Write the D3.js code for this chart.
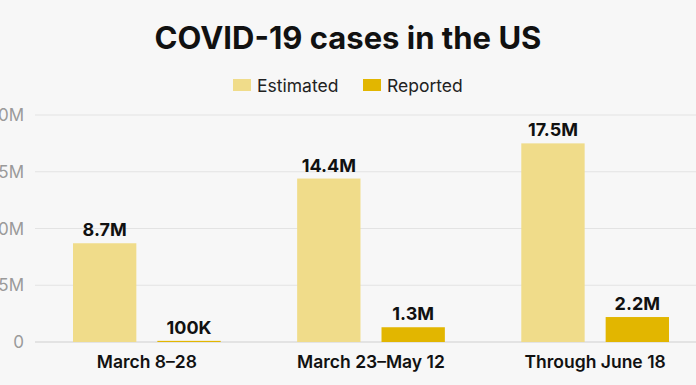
<!DOCTYPE html>
<html>
<head>
<meta charset="utf-8">
<script src="https://cdn.jsdelivr.net/npm/d3@7"></script>
<style>
  body { margin: 0; background: #f7f7f7; }
  svg { display: block; font-family: "Inter", "Roboto", sans-serif; }
</style>
</head>
<body>
<svg id="chart"></svg>
<script>
var width = 696, height = 385;

var periods = ["March 8\u201328", "March 23\u2013May 12", "Through June 18"];
var seriesNames = ["Estimated", "Reported"];
var estimated = [8.7, 14.4, 17.5];   // millions
var reported = [0.1, 1.3, 2.2];
var valueLabels = [["8.7M", "100K"], ["14.4M", "1.3M"], ["17.5M", "2.2M"]];
var yTicks = [0, 5, 10, 15, 20];
var yTickLabels = ["0", "5M", "10M", "15M", "20M"];
var colors = ["#f0dc8a", "#e2b600"];

var svg = d3.select("#chart").attr("width", width).attr("height", height);

svg.append("rect").attr("width", width).attr("height", height).attr("fill", "#f7f7f7");

// title
svg.append("text")
    .attr("x", 348).attr("y", 49)
    .attr("text-anchor", "middle")
    .attr("font-size", 31).attr("font-weight", 700)
    .attr("fill", "#111")
    .text("COVID-19 cases in the US");

// legend
var legendX = [233, 363];
seriesNames.forEach(function (name, i) {
    svg.append("rect")
        .attr("x", legendX[i]).attr("y", 79)
        .attr("width", 18).attr("height", 12)
        .attr("fill", colors[i]);
    svg.append("text")
        .attr("x", legendX[i] + 24).attr("y", 91.5)
        .attr("font-size", 17.5)
        .attr("fill", "#222")
        .text(name);
});

var y = d3.scaleLinear().domain([0, 20]).range([342, 115]);

var x0 = d3.scaleBand().domain(periods).range([73, 669]).paddingInner(0.341);
var x1 = d3.scaleBand().domain(seriesNames).range([0, x0.bandwidth()]).paddingInner(0.249);

// gridlines + y labels
var grid = svg.append("g");
grid.selectAll("line").data(yTicks).enter().append("line")
    .attr("x1", 35).attr("x2", width)
    .attr("y1", function (d) { return y(d); })
    .attr("y2", function (d) { return y(d); })
    .attr("stroke", function (d) { return d === 0 ? "#cfcfcf" : "#e3e3e3"; })
    .attr("stroke-width", 1);

grid.selectAll("text").data(yTicks).enter().append("text")
    .attr("x", 24)
    .attr("y", function (d) { return y(d) + 6; })
    .attr("text-anchor", "end")
    .attr("font-size", 17)
    .attr("fill", "#9a9a9a")
    .text(function (d, i) { return yTickLabels[i]; });

// bars
var groups = svg.selectAll("g.period").data(periods).enter().append("g")
    .attr("class", "period")
    .attr("transform", function (d) { return "translate(" + x0(d) + ",0)"; });

function barData(d, i) {
    return [
        { s: "Estimated", v: estimated[i], label: valueLabels[i][0], c: colors[0] },
        { s: "Reported", v: reported[i], label: valueLabels[i][1], c: colors[1] }
    ];
}

groups.selectAll("rect").data(barData).enter().append("rect")
    .attr("x", function (d) { return x1(d.s); })
    .attr("y", function (d) { return y(d.v); })
    .attr("width", x1.bandwidth())
    .attr("height", function (d) { return y(0) - y(d.v); })
    .attr("fill", function (d) { return d.c; });

groups.selectAll("text.val").data(barData).enter().append("text")
    .attr("class", "val")
    .attr("x", function (d) { return x1(d.s) + x1.bandwidth() / 2; })
    .attr("y", function (d) { return y(d.v) - 7; })
    .attr("text-anchor", "middle")
    .attr("font-size", 18).attr("font-weight", 700)
    .attr("fill", "#111")
    .text(function (d) { return d.label; });

// x labels
svg.selectAll("text.xlab").data(periods).enter().append("text")
    .attr("class", "xlab")
    .attr("x", function (d) { return x0(d) + x0.bandwidth() / 2; })
    .attr("y", 368)
    .attr("text-anchor", "middle")
    .attr("font-size", 17.5).attr("font-weight", 600)
    .attr("fill", "#111")
    .text(function (d) { return d; });
</script>
</body>
</html>
